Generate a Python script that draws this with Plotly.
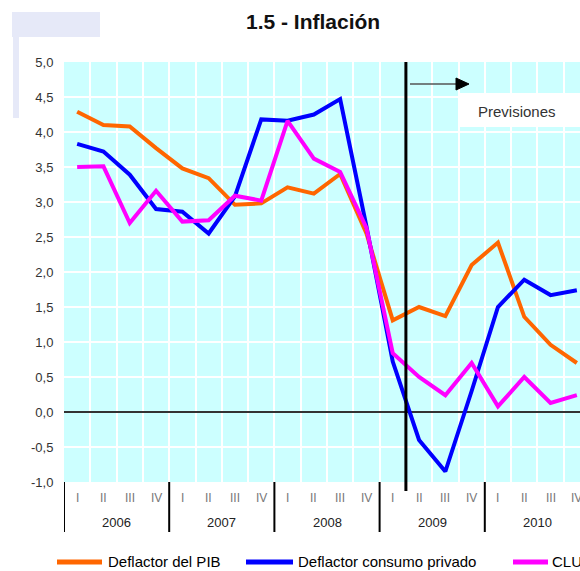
import plotly.graph_objects as go

# ---- data ----
years = ["2006", "2007", "2008", "2009", "2010"]
quarters = ["I", "II", "III", "IV"]
deflactor_pib = [4.29, 4.10, 4.08, 3.77, 3.48, 3.34, 2.96, 2.98, 3.21, 3.12,
                 3.40, 2.55, 1.31, 1.50, 1.37, 2.10, 2.42, 1.36, 0.96, 0.70]
consumo_privado = [3.83, 3.72, 3.39, 2.90, 2.86, 2.55, 3.08, 4.18, 4.16, 4.25,
                   4.47, 2.65, 0.72, -0.40, -0.85, 0.30, 1.50, 1.89, 1.67, 1.74]
clu = [3.50, 3.51, 2.70, 3.16, 2.72, 2.74, 3.09, 3.02, 4.16, 3.62,
       3.43, 2.63, 0.84, 0.50, 0.24, 0.70, 0.08, 0.50, 0.13, 0.24]
series_names = ["Deflactor del PIB", "Deflactor consumo privado", "CLU"]
series_colors = ["#FF6600", "#0000FF", "#FF00FF"]
y_ticks = [-1.0, -0.5, 0.0, 0.5, 1.0, 1.5, 2.0, 2.5, 3.0, 3.5, 4.0, 4.5, 5.0]
forecast_start = 12.5  # boundary between 2009 Q1 and Q2

# ---- layout geometry ----
W, H = 580, 571
L, R, T, B = 64, 580, 62, 482
QW = 26.3
x_end = -0.5 + (R - L) / QW

def px(x):
    return (x - L) / (R - L)

def py(y):
    return (B - y) / (B - T)

n = len(years) * len(quarters)
xs = list(range(n))

fig = go.Figure()
for vals, name, col in zip([deflactor_pib, consumo_privado, clu], series_names, series_colors):
    fig.add_trace(go.Scatter(x=xs, y=vals, mode="lines", name=name,
                             line=dict(color=col, width=4), showlegend=False,
                             hoverinfo="skip"))

font_family = "Liberation Sans, Arial, sans-serif"
shapes = []
annotations = []

# year separators below the plot
for k in range(len(years)):
    shapes.append(dict(type="line", xref="x", yref="paper",
                       x0=-0.5 + 4 * k, x1=-0.5 + 4 * k, y0=py(532), y1=0,
                       line=dict(color="#000000", width=2)))
    annotations.append(dict(x=1.5 + 4 * k, y=py(522), xref="x", yref="paper",
                            text=years[k], showarrow=False,
                            font=dict(size=13, color="#222222", family=font_family),
                            xanchor="center", yanchor="middle"))
    for j, q in enumerate(quarters):
        annotations.append(dict(x=4 * k + j, y=py(498), xref="x", yref="paper",
                                text=q, showarrow=False,
                                font=dict(size=12, color="#777777", family=font_family),
                                xanchor="center", yanchor="middle"))

# forecast vertical line
shapes.append(dict(type="line", xref="x", yref="paper",
                   x0=forecast_start, x1=forecast_start, y0=py(491), y1=1,
                   line=dict(color="#000000", width=3)))
# arrow
shapes.append(dict(type="line", xref="paper", yref="paper",
                   x0=px(410), x1=px(458), y0=py(84), y1=py(84),
                   line=dict(color="#555555", width=1.5)))
shapes.append(dict(type="path", xref="paper", yref="paper",
                   path=f"M {px(456)} {py(78)} L {px(469)} {py(84)} L {px(456)} {py(90)} Z",
                   fillcolor="#000000", line=dict(color="#000000", width=1)))
# Previsiones box
shapes.append(dict(type="rect", xref="paper", yref="paper",
                   x0=px(460), x1=px(590), y0=py(127), y1=py(93),
                   fillcolor="#FFFFFF", line=dict(width=0)))
annotations.append(dict(x=px(517), y=py(111), xref="paper", yref="paper",
                        text="Previsiones", showarrow=False,
                        font=dict(size=15, color="#333333", family=font_family),
                        xanchor="center", yanchor="middle"))

# top-left decoration
shapes.append(dict(type="rect", xref="paper", yref="paper",
                   x0=px(12), x1=px(100), y0=py(37), y1=py(12),
                   fillcolor="#E6E9F8", line=dict(width=0), layer="below"))
shapes.append(dict(type="rect", xref="paper", yref="paper",
                   x0=px(13), x1=px(19), y0=py(118), y1=py(37),
                   fillcolor="#E6E9F8", line=dict(width=0), layer="below"))

# title
annotations.append(dict(x=px(313), y=py(22), xref="paper", yref="paper",
                        text="<b>1.5 - Inflación</b>", showarrow=False,
                        font=dict(size=21, color="#111111", family=font_family),
                        xanchor="center", yanchor="middle"))

# manual legend
legend_pos = [(57, 102, 106), (246, 293, 296), (513, 548, 550)]
for (lx0, lx1, tx), name, col in zip(legend_pos, series_names, series_colors):
    shapes.append(dict(type="line", xref="paper", yref="paper",
                       x0=px(lx0), x1=px(lx1), y0=py(562), y1=py(562),
                       line=dict(color=col, width=5)))
    annotations.append(dict(x=px(tx), y=py(561), xref="paper", yref="paper",
                            text=name, showarrow=False,
                            font=dict(size=15, color="#000000", family=font_family),
                            xanchor="left", yanchor="middle"))

fig.update_layout(
    width=W, height=H,
    margin=dict(l=L, r=W - R, t=T, b=H - B, pad=0),
    plot_bgcolor="#CCFFFF", paper_bgcolor="#FFFFFF",
    shapes=shapes, annotations=annotations,
    showlegend=False,
    xaxis=dict(range=[-0.5, x_end], tickvals=[k - 0.5 for k in range(n + 1)],
               showticklabels=False, showgrid=True, gridcolor="#FFFFFF", gridwidth=2,
               zeroline=False, showline=False, ticks="", fixedrange=True),
    yaxis=dict(range=[-1, 5], tickvals=y_ticks,
               ticktext=[f"{v:.1f}".replace(".", ",") for v in y_ticks],
               showgrid=True, gridcolor="#FFFFFF", gridwidth=2,
               zeroline=True, zerolinecolor="#333333", zerolinewidth=1.5,
               showline=False, ticks="outside", ticklen=7, tickcolor="rgba(0,0,0,0)",
               tickfont=dict(size=13, color="#333333", family=font_family),
               fixedrange=True),
)

fig.write_html("out.html", config={"displayModeBar": False},
               post_script="document.body.style.margin='0';document.body.style.overflow='hidden';")
